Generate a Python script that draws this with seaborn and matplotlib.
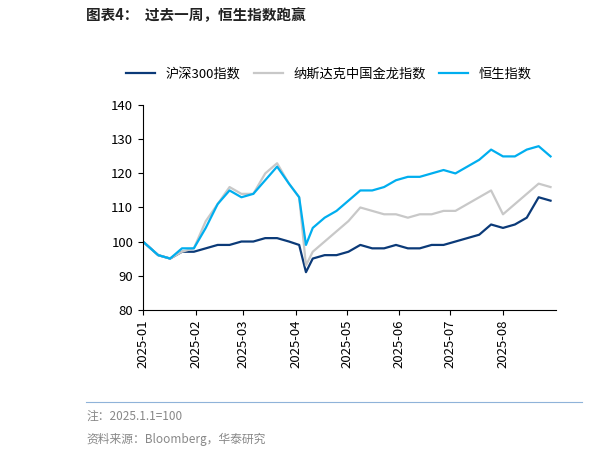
import matplotlib
matplotlib.use("Agg")
import matplotlib.pyplot as plt
import matplotlib.dates as mdates
import seaborn as sns
import pandas as pd

plt.rcParams["font.family"] = ["Noto Sans CJK SC", "DejaVu Sans"]

dates = ["2025-01-01","2025-01-10","2025-01-17","2025-01-24","2025-01-31","2025-02-07","2025-02-14",
         "2025-02-21","2025-02-28","2025-03-07","2025-03-14","2025-03-21","2025-03-28","2025-04-03",
         "2025-04-07","2025-04-11","2025-04-18","2025-04-25","2025-05-02","2025-05-09","2025-05-16",
         "2025-05-23","2025-05-30","2025-06-06","2025-06-13","2025-06-20","2025-06-27","2025-07-04",
         "2025-07-11","2025-07-18","2025-07-25","2025-08-01","2025-08-08","2025-08-15","2025-08-22","2025-08-29"]
csi300 = [100,96,95,97,97,98,99,99,100,100,101,101,100,99,91,95,96,96,97,99,98,98,99,98,98,99,99,100,101,102,105,104,105,107,113,112]
ndg = [100,96,95,97,98,106,111,116,114,114,120,123,117,113,93,97,100,103,106,110,109,108,108,107,108,108,109,109,111,113,115,108,111,114,117,116]
hsi = [100,96,95,98,98,104,111,115,113,114,118,122,117,113,99,104,107,109,112,115,115,116,118,119,119,120,121,120,122,124,127,125,125,127,128,125]
names = ["沪深300指数", "纳斯达克中国金龙指数", "恒生指数"]
colors = ["#0b3a78", "#c8c8c8", "#00aeef"]

d = pd.to_datetime(dates)
df = pd.concat([pd.DataFrame({"date": d, "value": v, "series": n}) for v, n in zip([csi300, ndg, hsi], names)])

fig = plt.figure(figsize=(6.16, 4.54), dpi=100)
ax = fig.add_axes([0.232, 0.318, 0.67, 0.45])
sns.lineplot(data=df, x="date", y="value", hue="series", palette=colors, linewidth=1.6, ax=ax)
ax.set_ylim(80, 140)
ax.set_yticks(range(80, 141, 10))
ax.set_xlim(pd.Timestamp("2025-01-01"), pd.Timestamp("2025-09-01"))
ax.xaxis.set_major_locator(mdates.MonthLocator(bymonth=range(1, 9)))
ax.xaxis.set_major_formatter(mdates.DateFormatter("%Y-%m"))
plt.setp(ax.get_xticklabels(), rotation=90)
ax.tick_params(labelsize=9.5)
ax.set_xlabel(""); ax.set_ylabel("")
for s in ["top", "right"]:
    ax.spines[s].set_visible(False)
ax.legend(loc="upper center", bbox_to_anchor=(0.45, 1.245), ncol=3, frameon=False, fontsize=9.5,
          handlelength=2.2, columnspacing=1.0)

fig.text(0.14, 0.955, "图表4：  过去一周，恒生指数跑赢", fontsize=10.5, fontweight="bold", color="#222222")
fig.add_artist(plt.Line2D([0.14, 0.945], [0.115, 0.115], color="#8fb3d9", lw=0.8))
fig.text(0.14, 0.075, "注：2025.1.1=100", fontsize=8.5, color="#888888")
fig.text(0.14, 0.025, "资料来源：Bloomberg，华泰研究", fontsize=8.5, color="#888888")
fig.savefig("out.png", dpi=100)
